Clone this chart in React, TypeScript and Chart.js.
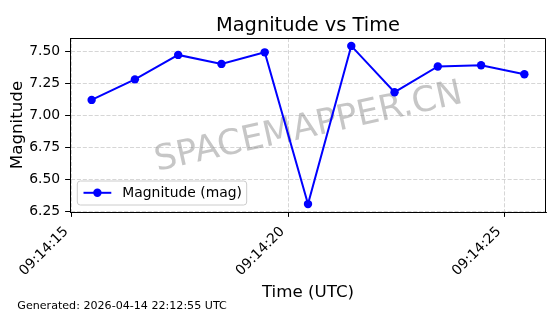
import React, { useEffect, useRef } from "react";
import Chart from "chart.js/auto";

const timeLabels = [
  "09:14:15.46", "09:14:16.46", "09:14:17.46", "09:14:18.46", "09:14:19.46", "09:14:20.46",
  "09:14:21.46", "09:14:22.46", "09:14:23.46", "09:14:24.46", "09:14:25.46",
];
const magnitudes = [7.12, 7.28, 7.47, 7.40, 7.49, 6.31, 7.54, 7.18, 7.38, 7.39, 7.32];
const xTickLabels = ["09:14:15", "09:14:20", "09:14:25"];
const yTickValues = [6.25, 6.5, 6.75, 7.0, 7.25, 7.5];
const seriesLabel = "Magnitude (mag)";
const titleText = "Magnitude vs Time";
const xTitle = "Time (UTC)";
const yTitle = "Magnitude";
const footerText = "Generated: 2026-04-14 22:12:55 UTC";
const watermarkText = "SPACEMAPPER.CN";

const FONT = '"DejaVu Sans", "Liberation Sans", sans-serif';
const BLUE = "#0000ff";

const toSec = (s: string) => {
  const [h, m, sec] = s.split(":");
  return Number(h) * 3600 + Number(m) * 60 + parseFloat(sec);
};
const fmtTime = (v: number) => {
  const t = Math.round(v);
  const h = Math.floor(t / 3600);
  const m = Math.floor((t % 3600) / 60);
  const s = t % 60;
  const p = (n: number) => String(n).padStart(2, "0");
  return `${p(h)}:${p(m)}:${p(s)}`;
};

const decor = {
  id: "decor",
  beforeDatasetsDraw(chart: any) {
    const { ctx, chartArea: a } = chart;
    ctx.save();
    const cx = (a.left + a.right) / 2;
    const cy = (a.top + a.bottom) / 2;
    ctx.translate(cx, cy);
    ctx.rotate((-12.5 * Math.PI) / 180);
    ctx.font = `35px ${FONT}`;
    ctx.fillStyle = "rgba(128,128,128,0.45)";
    ctx.textAlign = "center";
    ctx.textBaseline = "alphabetic";
    ctx.fillText(watermarkText, 0, 12);
    ctx.restore();
  },
  afterDraw(chart: any) {
    const { ctx, chartArea: a } = chart;
    const xs = chart.scales.x;
    ctx.save();
    // top and right spines
    ctx.strokeStyle = "#000";
    ctx.lineWidth = 1;
    ctx.beginPath();
    ctx.moveTo(a.left, a.top + 0.5);
    ctx.lineTo(a.right - 0.5, a.top + 0.5);
    ctx.lineTo(a.right - 0.5, a.bottom);
    ctx.stroke();

    ctx.fillStyle = "#000";
    // title
    ctx.font = `19.4px ${FONT}`;
    ctx.textAlign = "center";
    ctx.textBaseline = "alphabetic";
    ctx.fillText(titleText, (a.left + a.right) / 2, 30.7);
    // x title
    ctx.font = `16.7px ${FONT}`;
    ctx.fillText(xTitle, (a.left + a.right) / 2, 296.7);
    // y title
    ctx.save();
    ctx.translate(22, (a.top + a.bottom) / 2);
    ctx.rotate(-Math.PI / 2);
    ctx.fillText(yTitle, 0, 0);
    ctx.restore();
    // footer
    ctx.font = `11.1px ${FONT}`;
    ctx.textAlign = "left";
    ctx.fillText(footerText, 17.3, 309);
    // x tick labels
    ctx.font = `13.9px ${FONT}`;
    xTickLabels.forEach((lab) => {
      const px = xs.getPixelForValue(toSec(lab));
      ctx.save();
      ctx.translate(px - 3, 232);
      ctx.rotate(-Math.PI / 4);
      ctx.textAlign = "right";
      ctx.fillText(lab, 0, 0);
      ctx.restore();
    });
    // legend
    const lx = 77.3, ly = 181, lw = 169.4, lh = 24;
    ctx.beginPath();
    ctx.roundRect(lx, ly, lw, lh, 3);
    ctx.fillStyle = "rgba(255,255,255,0.8)";
    ctx.fill();
    ctx.strokeStyle = "#cccccc";
    ctx.lineWidth = 1;
    ctx.stroke();
    ctx.strokeStyle = BLUE;
    ctx.lineWidth = 2;
    ctx.beginPath();
    ctx.moveTo(83.5, 192.8);
    ctx.lineTo(111.3, 192.8);
    ctx.stroke();
    ctx.fillStyle = BLUE;
    ctx.beginPath();
    ctx.arc(97.4, 192.8, 4.2, 0, Math.PI * 2);
    ctx.fill();
    ctx.fillStyle = "#000";
    ctx.font = `13.9px ${FONT}`;
    ctx.textAlign = "left";
    ctx.fillText(seriesLabel, 122.3, 196.7);
    ctx.restore();
  },
};

export default function App() {
  const ref = useRef<HTMLCanvasElement | null>(null);
  useEffect(() => {
    document.body.style.margin = "0";
    const xsData = timeLabels.map(toSec);
    const xMin0 = Math.min(...xsData), xMax0 = Math.max(...xsData);
    const xPad = (xMax0 - xMin0) * 0.05;
    const yMin0 = Math.min(...magnitudes), yMax0 = Math.max(...magnitudes);
    const yPad = (yMax0 - yMin0) * 0.05;
    const chart = new Chart(ref.current as HTMLCanvasElement, {
      type: "line",
      data: {
        datasets: [
          {
            label: seriesLabel,
            data: xsData.map((x, i) => ({ x, y: magnitudes[i] })),
            borderColor: BLUE,
            backgroundColor: BLUE,
            borderWidth: 2,
            pointRadius: 4.2,
            pointBorderWidth: 0,
            pointBackgroundColor: BLUE,
            tension: 0,
            fill: false,
          },
        ],
      },
      plugins: [decor],
      options: {
        animation: false,
        responsive: false,
        devicePixelRatio: 1,
        events: [],
        layout: { padding: { top: 38, right: 14, left: 0, bottom: 0 } },
        plugins: { legend: { display: false }, title: { display: false }, tooltip: { enabled: false } },
        scales: {
          x: {
            type: "linear",
            min: xMin0 - xPad,
            max: xMax0 + xPad,
            afterBuildTicks: (s: any) => {
              s.ticks = xTickLabels.map((l) => ({ value: toSec(l) }));
            },
            afterFit: (s: any) => {
              s.height = 102;
            },
            ticks: { display: false, callback: (v: any) => fmtTime(Number(v)) },
            grid: { color: "#cccccc", lineWidth: 0.8, tickLength: 4.9, tickColor: "#000", tickWidth: 1, drawTicks: true },
            border: { display: true, color: "#000", width: 1, dash: [4.1, 1.8] },
          },
          y: {
            type: "linear",
            min: yMin0 - yPad,
            max: yMax0 + yPad,
            afterBuildTicks: (s: any) => {
              s.ticks = yTickValues.map((v) => ({ value: v }));
            },
            afterFit: (s: any) => {
              s.width = 70;
            },
            ticks: {
              color: "#000",
              padding: 4.9,
              font: { family: FONT, size: 13.9 },
              callback: (v: any) => Number(v).toFixed(2),
            },
            grid: { color: "#cccccc", lineWidth: 0.8, tickLength: 4.9, tickColor: "#000", tickWidth: 1, drawTicks: true },
            border: { display: true, color: "#000", width: 1, dash: [4.1, 1.8] },
          },
        },
      },
    } as any);
    return () => chart.destroy();
  }, []);
  return (
    <div style={{ width: 560, height: 314, position: "relative", background: "#fff" }}>
      <canvas ref={ref} width={560} height={314} style={{ display: "block" }} />
    </div>
  );
}
